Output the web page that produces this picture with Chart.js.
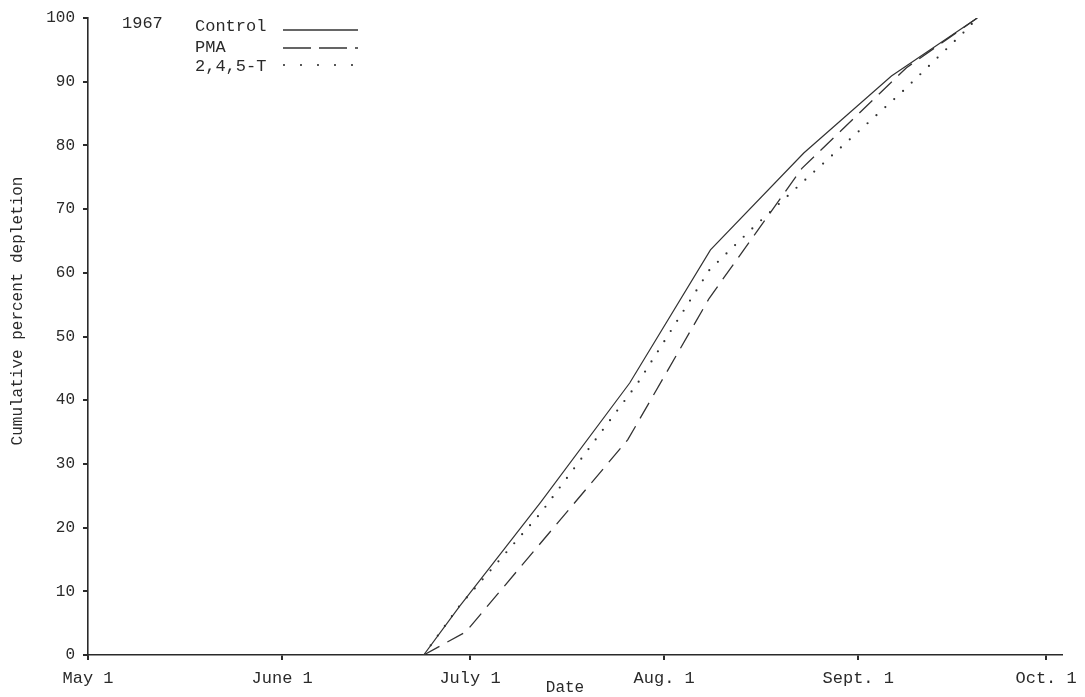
<!DOCTYPE html>
<html>
<head>
<meta charset="utf-8">
<script src="https://cdn.jsdelivr.net/npm/chart.js@4/dist/chart.umd.min.js"></script>
<style>
  html, body { margin: 0; padding: 0; background: #fff; }
  #wrap { width: 1085px; height: 697px; }
</style>
</head>
<body>
<div id="wrap"><canvas id="depletionChart"></canvas></div>
<script>
// ==========================
// Data (x = days after May 1, y = cumulative percent depletion)
// ==========================
const tickDays = [0, 31, 61, 92, 123, 153];
const tickLabels = ['May 1', 'June 1', 'July 1', 'Aug. 1', 'Sept. 1', 'Oct. 1'];

const controlDays = [53.6, 59.3, 72.3, 86.5, 99.4, 114.3, 128.3, 142];
const controlPct  = [0, 7.6, 24, 42.7, 63.6, 78.8, 90.9, 100];

const pmaDays = [53.6, 60.3, 86.2, 99.2, 114, 130.7, 142];
const pmaPct  = [0, 3.6, 33.8, 56, 76.4, 92.2, 100];

const tDays = [53.6, 59.3, 72.3, 87.8, 99.2, 106, 114.3, 130, 140.2, 142];
const tPct  = [0, 7.7, 22.3, 42.7, 60.4, 66.9, 74.4, 88.4, 98.1, 100];

const seriesNames = ['Control', 'PMA', '2,4,5-T'];
const yearLabel = '1967';

function toPoints(xs, ys) {
  return xs.map((x, i) => ({ x: x, y: ys[i] }));
}

const FONT = '"Liberation Mono", "DejaVu Sans Mono", monospace';
const INK = '#2a2a2a';

// ==========================
// Legend + axis titles (drawn like the typed original)
// ==========================
const typedLabels = {
  id: 'typedLabels',
  afterDraw(chart) {
    const ctx = chart.ctx;
    ctx.save();
    ctx.fillStyle = INK;
    ctx.font = '17px ' + FONT;
    ctx.textBaseline = 'middle';
    ctx.textAlign = 'left';
    ctx.fillText(yearLabel, 122, 23);

    const rows = [26, 47, 66];
    const sampleY = [30, 48, 65];
    chart.data.datasets.forEach((ds, i) => {
      ctx.fillStyle = INK;
      ctx.fillText(ds.label, 195, rows[i]);
      ctx.beginPath();
      ctx.strokeStyle = ds.borderColor;
      ctx.lineWidth = i === 2 ? 2.2 : ds.borderWidth + 0.4;
      ctx.lineCap = ds.borderCapStyle || 'butt';
      ctx.setLineDash(i === 1 ? [28, 8] : (i === 2 ? [0, 17] : []));
      ctx.moveTo(i === 2 ? 284 : 283, sampleY[i]);
      ctx.lineTo(358, sampleY[i]);
      ctx.stroke();
    });
    ctx.setLineDash([]);

    // x title
    ctx.fillStyle = INK;
    ctx.font = '16px ' + FONT;
    ctx.textAlign = 'center';
    ctx.fillText('Date', 565, 688);

    // y title
    ctx.translate(18, 311);
    ctx.rotate(-Math.PI / 2);
    ctx.fillText('Cumulative percent depletion', 0, 0);
    ctx.restore();
  }
};

new Chart(document.getElementById('depletionChart').getContext('2d'), {
  type: 'line',
  data: {
    datasets: [
      {
        label: seriesNames[0],
        data: toPoints(controlDays, controlPct),
        borderColor: '#333',
        borderWidth: 1.2,
        pointRadius: 0,
        tension: 0
      },
      {
        label: seriesNames[1],
        data: toPoints(pmaDays, pmaPct),
        borderColor: '#333',
        borderWidth: 1.3,
        borderDash: [18, 9],
        pointRadius: 0,
        tension: 0
      },
      {
        label: seriesNames[2],
        data: toPoints(tDays, tPct),
        borderColor: '#333',
        borderWidth: 2.2,
        borderDash: [0, 12],
        borderCapStyle: 'round',
        pointRadius: 0,
        tension: 0
      }
    ]
  },
  options: {
    responsive: true,
    maintainAspectRatio: false,
    animation: false,
    layout: { autoPadding: false, padding: { top: 18, right: 17, left: 0, bottom: 0 } },
    plugins: {
      legend: { display: false },
      tooltip: { enabled: false }
    },
    scales: {
      x: {
        type: 'linear',
        min: 0,
        max: 155.5,
        afterFit(scale) { scale.height = 42; },
        afterBuildTicks(scale) {
          scale.ticks = tickDays.map(v => ({ value: v }));
        },
        border: { display: true, color: INK, width: 1.6 },
        grid: { drawOnChartArea: false, drawTicks: true, tickLength: 5, color: INK, lineWidth: 2 },
        ticks: {
          color: INK,
          font: { family: FONT, size: 17 },
          padding: 8,
          maxRotation: 0,
          callback: function (value) {
            const i = tickDays.indexOf(value);
            return i >= 0 ? tickLabels[i] : '';
          }
        }
      },
      y: {
        min: 0,
        max: 100,
        afterFit(scale) { scale.width = 88; },
        border: { display: true, color: INK, width: 1.6 },
        grid: { drawOnChartArea: false, drawTicks: true, tickLength: 5, color: INK, lineWidth: 2 },
        ticks: {
          stepSize: 10,
          color: INK,
          font: { family: FONT, size: 16 },
          padding: 8
        }
      }
    }
  },
  plugins: [typedLabels]
});
</script>
</body>
</html>
